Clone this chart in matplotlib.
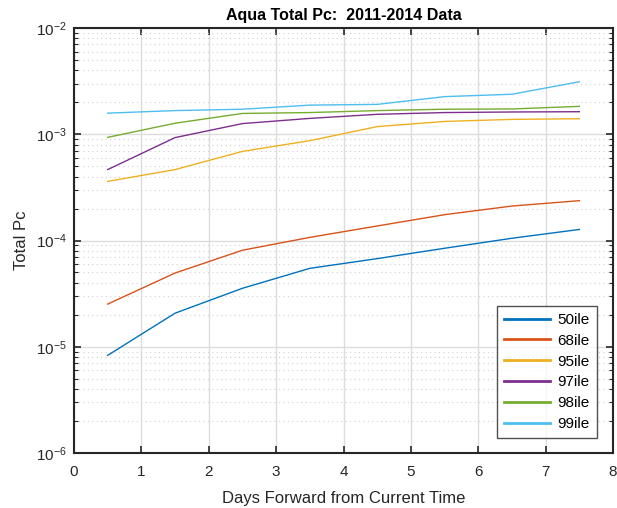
import numpy as np
import matplotlib.pyplot as plt
from matplotlib.ticker import LogLocator, NullFormatter

plt.rcParams['font.family'] = ['Liberation Sans', 'DejaVu Sans']

days = [0.5, 1.5, 2.5, 3.5, 4.5, 5.5, 6.5, 7.5]

# percentile curves of Total Pc
pc_50 = [8.3e-6, 2.07e-5, 3.55e-5, 5.47e-5, 6.75e-5, 8.45e-5, 1.05e-4, 1.27e-4]
pc_68 = [2.52e-5, 4.94e-5, 8.1e-5, 1.07e-4, 1.37e-4, 1.75e-4, 2.11e-4, 2.37e-4]
pc_95 = [3.6e-4, 4.65e-4, 6.9e-4, 8.7e-4, 1.18e-3, 1.32e-3, 1.38e-3, 1.4e-3]
pc_97 = [4.65e-4, 9.3e-4, 1.26e-3, 1.41e-3, 1.54e-3, 1.6e-3, 1.62e-3, 1.63e-3]
pc_98 = [9.35e-4, 1.27e-3, 1.57e-3, 1.6e-3, 1.67e-3, 1.72e-3, 1.73e-3, 1.83e-3]
pc_99 = [1.58e-3, 1.67e-3, 1.72e-3, 1.88e-3, 1.91e-3, 2.26e-3, 2.38e-3, 3.12e-3]

labels = ['50ile', '68ile', '95ile', '97ile', '98ile', '99ile']
colors = ['#0072BD', '#D95319', '#EDB120', '#7E2F8E', '#77AC30', '#4DBEEE']

fig = plt.figure(figsize=(6.17, 5.08), dpi=100)
ax = fig.add_axes([74 / 617, 1 - 453 / 508, (613 - 74) / 617, (453 - 28) / 508])

for ys, lab, c in zip([pc_50, pc_68, pc_95, pc_97, pc_98, pc_99], labels, colors):
    ax.plot(days, ys, color=c, lw=1.0, label=lab)

ax.set_yscale('log')
ax.set_xlim(0, 8)
ax.set_ylim(1e-6, 1e-2)
ax.set_xticks(range(9))
ax.yaxis.set_major_locator(LogLocator(base=10, numticks=10))
ax.yaxis.set_minor_locator(LogLocator(base=10, subs=np.arange(2, 10), numticks=10))
ax.yaxis.set_minor_formatter(NullFormatter())

ax.grid(True, which='major', color='#dcdcdc', lw=1.0)
ax.grid(True, which='minor', axis='y', color='#d0d0d0', lw=0.8, ls=(0, (1, 3)))
ax.set_axisbelow(True)

ax.tick_params(which='both', direction='in', top=True, right=True, colors='#262626', labelsize=11)
ax.tick_params(which='major', length=5, width=1.2)
ax.tick_params(which='minor', length=3, width=0.8)
ax.tick_params(axis='x', pad=9)
ax.tick_params(axis='y', pad=5)
for s in ax.spines.values():
    s.set_color('#262626')
    s.set_linewidth(1.5)

ax.set_xlabel('Days Forward from Current Time', fontsize=12, color='#262626', labelpad=8)
ax.set_ylabel('Total Pc', fontsize=12, color='#262626', labelpad=5)
ax.set_title('Aqua Total Pc:  2011-2014 Data', fontsize=11.5, fontweight='bold', pad=6)

leg = ax.legend(loc='lower right', bbox_to_anchor=(0.970, 0.035), borderaxespad=0,
                fontsize=11, fancybox=False, edgecolor='#262626', handlelength=3.0,
                borderpad=0.45, labelspacing=0.45, handletextpad=0.5)
leg.get_frame().set_linewidth(1.0)
for line in leg.get_lines():
    line.set_linewidth(2.0)

fig.savefig('out.png', dpi=100)
